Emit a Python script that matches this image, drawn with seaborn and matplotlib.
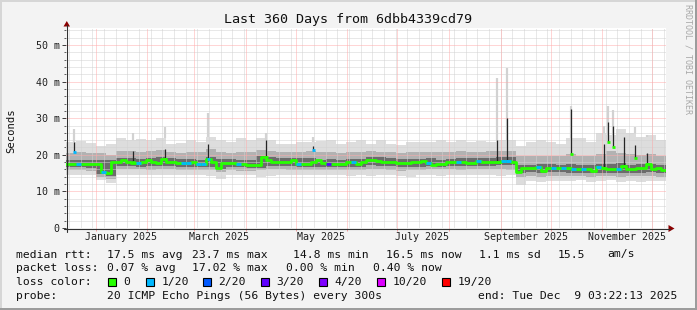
import datetime as dt
import numpy as np
import pandas as pd
import matplotlib
matplotlib.use("Agg")
import matplotlib.pyplot as plt
from matplotlib.patches import Rectangle, Polygon
from matplotlib.lines import Line2D
import seaborn as sns

# ---------------- data ----------------
# median RTT (ms), one value per 3-day bin (120 bins over 360 days)
median_ms = [
    17.5, 17.5, 17.5, 17.5, 17.4, 17.5, 17.5, 15.4, 15.0, 18.1,
    18.1, 18.6, 18.0, 17.8, 17.8, 17.9, 18.5, 17.9, 17.8, 18.9,
    18.1, 18.0, 17.8, 17.8, 17.8, 17.9, 17.6, 17.5, 18.8, 17.9,
    16.4, 17.8, 17.8, 17.8, 17.6, 17.4, 17.3, 17.3, 17.3, 19.3,
    18.6, 18.1, 18.1, 18.1, 18.1, 18.7, 17.6, 17.5, 17.5, 18.0,
    18.6, 17.8, 17.5, 17.5, 17.5, 17.5, 17.9, 18.0, 17.5, 18.0,
    18.6, 18.6, 18.4, 18.1, 18.0, 18.1, 17.8, 17.8, 17.8, 18.1,
    18.1, 18.4, 17.8, 17.1, 17.6, 17.6, 18.1, 18.1, 18.0, 18.0,
    17.8, 17.8, 18.3, 18.1, 18.1, 18.1, 18.0, 18.4, 18.3, 18.1,
    15.4, 16.3, 16.3, 16.3, 16.6, 15.6, 16.3, 16.4, 16.4, 16.3,
    16.3, 16.2, 16.2, 16.1, 16.1, 15.7, 16.6, 16.5, 16.0, 16.0,
    16.2, 16.9, 16.2, 16.2, 16.3, 16.3, 17.4, 16.0, 16.4, 15.9,
]
# lost pings out of 20, per 3-day bin
loss_20 = [
    0, 0, 1, 0, 0, 0, 0, 1, 0, 0,
    0, 0, 0, 0, 1, 0, 0, 0, 0, 0,
    0, 0, 0, 1, 1, 0, 1, 1, 0, 0,
    0, 0, 0, 0, 1, 0, 0, 0, 0, 0,
    0, 0, 0, 0, 0, 0, 1, 0, 0, 0,
    0, 0, 3, 0, 0, 0, 0, 1, 0, 0,
    0, 0, 0, 0, 0, 0, 0, 0, 0, 0,
    0, 0, 1, 0, 0, 0, 0, 0, 1, 0,
    0, 0, 1, 0, 0, 0, 0, 1, 1, 0,
    0, 0, 0, 0, 1, 0, 0, 1, 0, 1,
    0, 1, 0, 1, 0, 0, 1, 0, 0, 0,
    1, 0, 0, 0, 0, 0, 0, 0, 0, 0,
]
# smoke envelopes (ms), one value per 6-day bin (60 bins)
smoke_hi1 = [23.5, 23.8, 23.2, 22.5, 23.0, 24.5, 24.0, 24.3, 24.0, 24.5,
             23.0, 23.3, 24.0, 23.5, 25.0, 24.0, 23.5, 24.5, 24.0, 24.5,
             24.0, 23.0, 23.0, 23.5, 23.5, 23.8, 24.0, 23.0, 23.5, 24.0,
             23.0, 24.0, 23.0, 22.8, 23.5, 23.5, 23.5, 24.0, 23.5, 24.0,
             23.5, 23.8, 23.5, 24.0, 24.0, 22.5, 23.5, 24.0, 23.5, 23.0,
             24.5, 24.5, 23.5, 26.0, 25.5, 27.0, 26.0, 25.0, 25.5, 24.0]
smoke_lo1 = [14.6, 14.5, 14.6, 13.2, 12.3, 14.5, 14.5, 14.6, 14.4, 14.5,
             14.5, 14.6, 14.5, 14.4, 14.3, 13.5, 14.5, 14.6, 14.5, 14.0,
             14.3, 14.5, 14.6, 14.5, 14.4, 14.6, 14.5, 14.5, 14.3, 14.5,
             14.3, 14.5, 14.4, 14.2, 13.8, 14.4, 14.5, 14.3, 14.5, 14.4,
             14.5, 14.4, 14.5, 14.3, 14.4, 11.8, 12.8, 12.6, 12.9, 12.8,
             12.9, 13.0, 12.6, 12.8, 13.0, 12.5, 12.8, 12.7, 12.9, 12.8]
smoke_hi2 = [20.5, 20.8, 20.6, 20.5, 20.0, 21.0, 21.0, 20.8, 21.0, 21.2,
             20.8, 20.6, 20.8, 20.7, 21.5, 20.8, 20.6, 20.8, 20.8, 21.3,
             21.0, 20.8, 20.8, 20.9, 21.0, 20.8, 20.8, 20.6, 20.8, 20.9,
             21.0, 20.9, 20.7, 20.5, 20.8, 20.8, 20.9, 20.9, 20.8, 21.0,
             20.8, 20.9, 21.0, 21.0, 21.0, 19.8, 19.6, 19.8, 19.7, 19.6,
             20.2, 19.8, 19.8, 20.3, 21.0, 20.5, 20.3, 20.0, 20.2, 19.8]
smoke_lo2 = [15.8, 15.8, 15.7, 14.0, 13.4, 16.0, 16.0, 16.0, 15.9, 16.0,
             16.0, 15.9, 15.9, 15.8, 15.8, 15.2, 15.8, 15.7, 15.6, 15.8,
             16.0, 16.0, 15.9, 15.8, 15.8, 15.9, 15.8, 15.8, 15.8, 15.9,
             16.0, 16.0, 15.9, 15.6, 15.8, 15.8, 16.0, 16.0, 16.0, 15.9,
             16.0, 16.0, 16.0, 16.0, 15.9, 14.0, 14.2, 14.0, 14.2, 14.2,
             14.2, 14.3, 14.0, 14.2, 14.2, 14.0, 14.2, 14.2, 14.2, 14.0]
smoke_hi3 = [18.6, 18.6, 18.5, 18.6, 18.5, 19.2, 19.0, 18.9, 19.1, 19.4,
             19.0, 18.9, 18.8, 18.7, 19.3, 18.9, 18.8, 18.6, 18.5, 19.8,
             19.3, 19.1, 19.1, 19.2, 19.0, 18.7, 18.8, 18.7, 18.8, 18.9,
             19.4, 19.3, 19.0, 18.9, 18.9, 18.8, 19.2, 18.6, 18.8, 19.2,
             19.0, 19.2, 19.2, 19.3, 19.4, 17.2, 17.3, 17.4, 17.4, 17.3,
             17.4, 17.3, 17.2, 17.6, 17.5, 17.7, 17.3, 17.4, 17.6, 17.2]
smoke_lo3 = [16.6, 16.6, 16.5, 14.8, 14.2, 17.0, 16.9, 16.8, 16.9, 16.9,
             17.0, 16.8, 16.7, 16.6, 16.8, 16.0, 16.7, 16.6, 16.4, 16.5,
             17.0, 17.0, 16.9, 16.8, 16.6, 16.8, 16.6, 16.6, 16.7, 16.8,
             17.2, 17.0, 16.9, 16.6, 16.7, 16.6, 16.9, 16.8, 16.9, 17.0,
             16.9, 17.0, 17.0, 17.1, 17.1, 14.9, 15.2, 15.0, 15.2, 15.2,
             15.1, 15.0, 14.9, 15.1, 15.0, 15.0, 15.1, 15.1, 15.2, 14.9]
# short-lived spikes: day offset, outer smoke top, dark core top, median, loss
spike_day = [4.8, 40.2, 59.4, 85.2, 120.0, 148.2, 258.6, 264.6,
             303.0, 322.8, 325.2, 328.2, 334.8, 341.4, 348.6]
spike_light = [27.0, 26.0, 27.7, 31.4, 26.0, 25.0, 41.0, 43.6,
               33.3, 28.0, 33.3, 32.2, 27.0, 27.5, 25.0]
spike_dark = [23.5, 21.0, 21.5, 23.0, 24.0, 22.5, 24.0, 30.0,
              32.5, 23.0, 29.0, 28.0, 25.0, 22.7, 20.5]
spike_med = [20.8, 18.0, 18.9, 18.8, 19.3, 21.3, 18.0, 18.4,
             20.2, 16.5, 23.6, 22.0, 17.0, 19.0, 17.4]
spike_loss = [1, 0, 0, 1, 0, 1, 0, 1, 0, 0, 0, 0, 0, 0, 0]

y_ticks = [0, 10, 20, 30, 40, 50]
y_tick_labels = ["0", "10 m", "20 m", "30 m", "40 m", "50 m"]
x_label_months = [1, 3, 5, 7, 9, 11]
x_tick_labels = ["January 2025", "March 2025", "May 2025", "July 2025",
                 "September 2025", "November 2025"]

loss_levels = [0, 1, 2, 3, 4, 10, 19]
loss_names = ["0", "1/20", "2/20", "3/20", "4/20", "10/20", "19/20"]
loss_colors = ["#26ff00", "#00b8ff", "#0059ff", "#5e00ff", "#7e00ff", "#dd00ff", "#ff0000"]

title = "Last 360 Days from 6dbb4339cd79"
legend_rows = [
    [(16, "median rtt:"), (107, "17.5 ms avg"), (192, "23.7 ms max"), (293, "14.8 ms min"),
     (386, "16.5 ms now"), (479, "1.1 ms sd"), (558, "15.5"), (607, "am/s")],
    [(16, "packet loss:"), (107, "0.07 % avg"), (192, "17.02 % max"), (286, "0.00 % min"),
     (373, "0.40 % now")],
    [(16, "loss color:")],
    [(16, "probe:"), (107, "20 ICMP Echo Pings (56 Bytes) every 300s"),
     (478, "end: Tue Dec  9 03:22:13 2025")],
]
legend_row_y = [254.5, 268.3, 281.7, 296]
loss_square_x = [108, 146, 203, 261, 319, 377, 442]

# ---------------- layout helpers ----------------
W, H = 697, 310
sns.set_theme(style="white")
plt.rcParams['font.family'] = ['DejaVu Sans Mono', 'DejaVu Sans']

def fx(x):
    return x / W

def fy(y):
    return 1 - y / H

fig = plt.figure(figsize=(W / 100, H / 100), dpi=100, facecolor='#f3f3f3')
X0, X1, Y0, Y1 = 66, 666, 228, 28
PX_PER_MS = 3.66
ax = fig.add_axes([fx(X0), fy(Y0), (X1 - X0) / W, (Y0 - Y1) / H])
ax.set_facecolor('white')
ax.set_xlim(0, 360)
ax.set_ylim(0, (Y0 - Y1) / PX_PER_MS)
for s in ax.spines.values():
    s.set_visible(False)

start = dt.datetime(2024, 12, 14, 3, 22, 13)
end = start + dt.timedelta(days=360)

def day(d):
    return (d - start).total_seconds() / 86400.0

# ---------------- smoke ----------------
sx = np.arange(len(smoke_hi1) + 1) * 6.0
def ext(a):
    return list(a) + [a[-1]]

ax.fill_between(sx, ext(smoke_lo1), ext(smoke_hi1), step='post', color='#dddddd', lw=0, zorder=1)
# light spikes
ax.vlines(spike_day, [smoke_hi1[int(d // 6)] for d in spike_day], spike_light,
          color='#d2d2d2', lw=1.6, zorder=1.05)
ax.fill_between(sx, ext(smoke_lo2), ext(smoke_hi2), step='post', color='#b2b2b2', lw=0, zorder=1.1)
ax.fill_between(sx, ext(smoke_lo3), ext(smoke_hi3), step='post', color='#6c6c6c', lw=0, zorder=1.2)

# ---------------- grid ----------------
mondays = []
d = dt.datetime(2024, 12, 16)
while d < end:
    mondays.append(day(d))
    d += dt.timedelta(days=7)
month_starts = [day(dt.datetime(2025, m, 1)) for m in range(1, 13)]
dot = (0, (1, 1))
gkw = dict(lw=0.72, ls=dot, antialiased=True)
for xv in mondays:
    ax.axvline(xv, color='#d2d2d2', zorder=1.5, **gkw)
for yv in range(2, 55, 2):
    if yv % 10:
        ax.axhline(yv, color='#d2d2d2', zorder=1.5, **gkw)
for xv in month_starts:
    ax.axvline(xv, color='#ffacac', zorder=1.55, **gkw)
for yv in y_ticks[1:]:
    ax.axhline(yv, color='#ffacac', zorder=1.55, **gkw)

# dark spikes
ax.vlines(spike_day, spike_med, spike_dark, color='#252525', lw=0.9, zorder=1.6)

# ---------------- median line ----------------
mx = np.arange(len(median_ms) + 1) * 3.0
df = pd.DataFrame({"day": mx, "median": ext(median_ms)})
sns.lineplot(data=df, x="day", y="median", ax=ax, color=loss_colors[0], lw=2.0,
             drawstyle='steps-post', estimator=None, legend=False, zorder=3)
lc = dict(zip(loss_levels, loss_colors))
for i, (m, l) in enumerate(zip(median_ms, loss_20)):
    if l:
        ax.hlines(m, mx[i], mx[i] + 3, color=lc[l], lw=2.0, zorder=3.1)
for dday, m, l in zip(spike_day, spike_med, spike_loss):
    ax.hlines(m, dday - 0.9, dday + 0.9, color=lc[l], lw=2.0, zorder=3.2)

# ---------------- ticks ----------------
ax.set_xlabel("")
ax.set_ylabel("")
ax.set_yticks(y_ticks)
ax.set_yticklabels(y_tick_labels)
ax.set_yticks(list(range(0, 55, 2)), minor=True)
ax.set_xticks([day(dt.datetime(2025, m, 16)) for m in x_label_months])
ax.set_xticklabels(x_tick_labels)
ax.set_xticks(month_starts, minor=True)
ax.tick_params(axis='y', which='major', direction='out', length=3.0, width=0.72,
               color='#404040', pad=1.6, labelsize=7.2, left=True)
ax.tick_params(axis='y', which='minor', direction='out', length=1.6, width=0.72,
               color='#606060', left=True)
ax.tick_params(axis='x', which='major', length=0, pad=3.2, labelsize=7.2)
ax.tick_params(axis='x', which='minor', direction='out', length=2.0, width=0.72,
               color='#f3a0a0', bottom=True)
for lab in ax.get_xticklabels() + ax.get_yticklabels():
    lab.set_color('#202020')

# axis lines and arrows (figure space)
fig.add_artist(Line2D([fx(64), fx(670)], [fy(228.5), fy(228.5)], color='#303030', lw=0.8))
fig.add_artist(Line2D([fx(66.5), fx(66.5)], [fy(232), fy(25)], color='#303030', lw=0.8))
fig.add_artist(Polygon([(fx(63.5), fy(26.5)), (fx(70.0), fy(26.5)), (fx(66.8), fy(21.0))],
                       closed=True, color='#8b0000', lw=0))
fig.add_artist(Polygon([(fx(668.5), fy(225.0)), (fx(668.5), fy(232.0)), (fx(674.5), fy(228.5))],
                       closed=True, color='#8b0000', lw=0))

# ---------------- texts ----------------
fig.text(fx(348), fy(19), title, ha='center', va='center', fontsize=9.6, color='#101010')
fig.text(fx(11), fy(131), "Seconds", rotation=90, ha='center', va='center', fontsize=7.6,
         color='#101010')
fig.text(fx(688), fy(4), "RRDTOOL / TOBI OETIKER", rotation=270, ha='center', va='top',
         fontsize=6.0, color='#a8a8a8')

for row, yrow in zip(legend_rows, legend_row_y):
    for xpos, txt in row:
        fig.text(fx(xpos), fy(yrow), txt, ha='left', va='center', fontsize=8.2, color='#101010')
for xs, col, name in zip(loss_square_x, loss_colors, loss_names):
    fig.add_artist(Rectangle((fx(xs), fy(286)), 8 / W, 8 / H, facecolor=col,
                             edgecolor='black', lw=0.8))
    fig.text(fx(xs + 15.5), fy(legend_row_y[2]), name, ha='left', va='center',
             fontsize=8.2, color='#101010')

# border (rrdtool style shading)
fig.add_artist(Rectangle((0, 0), 2 / W, 1, facecolor='#d6d6d6', lw=0))
fig.add_artist(Rectangle((0, 1 - 2 / H), 1, 2 / H, facecolor='#d6d6d6', lw=0))
fig.add_artist(Rectangle((1 - 2 / W, 0), 2 / W, 1, facecolor='#9c9c9c', lw=0))
fig.add_artist(Rectangle((0, 0), 1, 2 / H, facecolor='#9c9c9c', lw=0))

fig.savefig("out.png", dpi=100, facecolor=fig.get_facecolor())
